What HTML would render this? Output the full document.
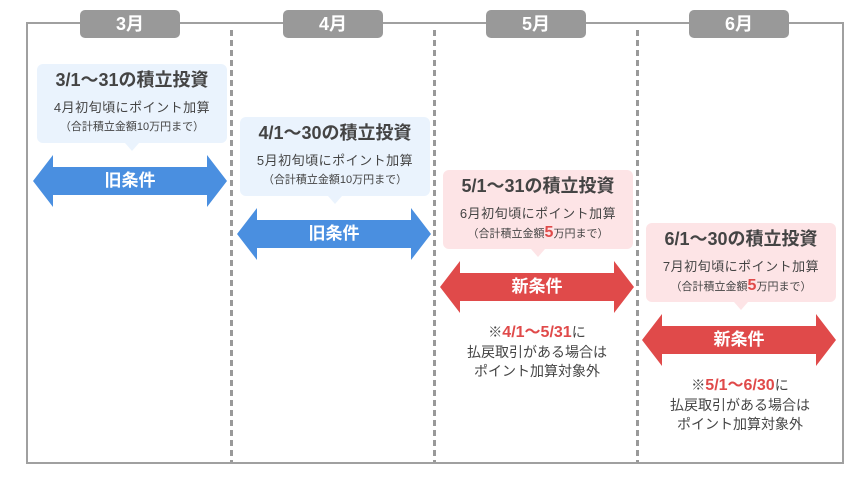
<!DOCTYPE html>
<html><head><meta charset="utf-8"><style>
*{margin:0;padding:0;box-sizing:border-box}
body{width:868px;height:480px;background:#fff;position:relative;overflow:hidden;font-family:"Liberation Sans","Noto Sans CJK JP",sans-serif;color:#444}
.frame{position:absolute;left:26px;top:22px;width:818px;height:442px;border:2px solid #a0a0a0}
.tab{position:absolute;top:10px;width:100px;height:28px;background:#999;border-radius:5px;color:#fff;font-weight:bold;font-size:18px;text-align:center;line-height:28px}
.dash{position:absolute;top:30px;width:3px;height:432px;background:repeating-linear-gradient(#999 0 6px,transparent 6px 10px)}
.box{position:absolute;width:190px;height:79px;border-radius:6px;text-align:center}
.box.b{background:#eaf3fd}.box.r{background:#fde4e6}
.box:after{content:"";position:absolute;left:88px;bottom:-8px;border:7px solid transparent;border-top:8px solid;border-bottom:0}
.box.b:after{border-top-color:#eaf3fd}.box.r:after{border-top-color:#fde4e6}
.t{position:absolute;left:0;right:0;top:5px;font-size:18px;font-weight:bold;line-height:22px;color:#444;white-space:nowrap}
.s{position:absolute;left:0;right:0;top:35px;font-size:13px;line-height:18px;letter-spacing:0.5px;white-space:nowrap}
.x{position:absolute;left:0;right:0;top:55px;font-size:11px;line-height:16px;white-space:nowrap}
.x b{color:#e04a4a;font-size:16px}
.arr{position:absolute;width:194px;height:52px}
.arr span{position:absolute;left:0;right:0;top:0;line-height:52px;text-align:center;color:#fff;font-weight:bold;font-size:17px}
.note{position:absolute;width:190px;text-align:center;font-size:14px;line-height:19.5px}
.note b{color:#e04a4a;font-size:16px}
</style></head><body>
<div class="frame"></div>
<div class="dash" style="left:230px"></div>
<div class="dash" style="left:433px"></div>
<div class="dash" style="left:636px"></div>
<div class="tab" style="left:80px">3月</div>
<div class="tab" style="left:283px">4月</div>
<div class="tab" style="left:486px">5月</div>
<div class="tab" style="left:689px">6月</div>

<div class="box b" style="left:37px;top:64px"><div class="t">3/1～31の積立投資</div><div class="s">4月初旬頃にポイント加算</div><div class="x">（合計積立金額10万円まで）</div></div>
<div class="box b" style="left:240px;top:117px"><div class="t">4/1～30の積立投資</div><div class="s">5月初旬頃にポイント加算</div><div class="x">（合計積立金額10万円まで）</div></div>
<div class="box r" style="left:443px;top:170px"><div class="t">5/1～31の積立投資</div><div class="s">6月初旬頃にポイント加算</div><div class="x">（合計積立金額<b>5</b>万円まで）</div></div>
<div class="box r" style="left:646px;top:223px"><div class="t">6/1～30の積立投資</div><div class="s">7月初旬頃にポイント加算</div><div class="x">（合計積立金額<b>5</b>万円まで）</div></div>

<div class="arr" style="left:33px;top:155px"><svg width="194" height="52"><polygon points="0,26 20,0 20,12 174,12 174,0 194,26 174,52 174,40 20,40 20,52" fill="#4a8fe0"/></svg><span>旧条件</span></div>
<div class="arr" style="left:237px;top:208px"><svg width="194" height="52"><polygon points="0,26 20,0 20,12 174,12 174,0 194,26 174,52 174,40 20,40 20,52" fill="#4a8fe0"/></svg><span>旧条件</span></div>
<div class="arr" style="left:440px;top:261px"><svg width="194" height="52"><polygon points="0,26 20,0 20,12 174,12 174,0 194,26 174,52 174,40 20,40 20,52" fill="#e04a4a"/></svg><span>新条件</span></div>
<div class="arr" style="left:642px;top:314px"><svg width="194" height="52"><polygon points="0,26 20,0 20,12 174,12 174,0 194,26 174,52 174,40 20,40 20,52" fill="#e04a4a"/></svg><span>新条件</span></div>

<div class="note" style="left:442px;top:323px">※<b>4/1～5/31</b>に<br>払戻取引がある場合は<br>ポイント加算対象外</div>
<div class="note" style="left:645px;top:376px">※<b>5/1～6/30</b>に<br>払戻取引がある場合は<br>ポイント加算対象外</div>
</body></html>
